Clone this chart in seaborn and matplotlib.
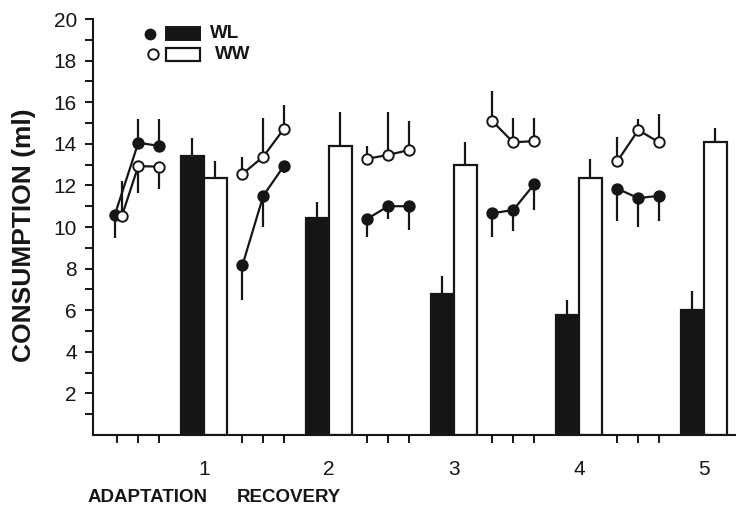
import numpy as np
import pandas as pd
import matplotlib
matplotlib.use("Agg")
import matplotlib.pyplot as plt
from matplotlib.patches import Rectangle
import seaborn as sns

# ---------------- data ----------------
groups = ["WL", "WW"]
bar_labels = ["1", "2", "3", "4", "5"]
segments = ["ADAPTATION", "R1", "R2", "R3", "R4"]

# bar means and SEM (upward)
wl_bar = [13.43, 10.45, 6.78, 5.75, 6.01]
wl_bar_err = [0.83, 0.74, 0.87, 0.74, 0.91]
ww_bar = [12.34, 13.90, 13.00, 12.34, 14.10]
ww_bar_err = [0.83, 1.62, 1.10, 0.93, 0.64]

# daily points: adaptation (3 days) then recovery after each test (3 days each)
wl_adapt = [10.60, 14.05, 13.90]
wl_adapt_lo = [1.15, 0.0, 0.0]
wl_adapt_hi = [0.0, 1.15, 1.30]
ww_adapt = [10.55, 12.93, 12.90]
ww_adapt_lo = [0.0, 1.28, 1.06]
ww_adapt_hi = [1.65, 0.0, 0.0]

wl_rec1 = [8.16, 11.50, 12.95]
wl_rec2 = [10.40, 11.00, 11.00]
wl_rec3 = [10.66, 10.82, 12.05]
wl_rec4 = [11.84, 11.39, 11.50]
wl_rec_lo1 = [1.65, 1.50, 0.35]
wl_rec_lo2 = [0.87, 0.60, 1.13]
wl_rec_lo3 = [1.13, 1.00, 1.23]
wl_rec_lo4 = [1.55, 1.38, 1.21]

ww_rec1 = [12.55, 13.38, 14.73]
ww_rec2 = [13.28, 13.47, 13.70]
ww_rec3 = [15.08, 14.07, 14.13]
ww_rec4 = [13.17, 14.66, 14.07]
ww_rec_hi1 = [0.80, 1.84, 1.14]
ww_rec_hi2 = [0.60, 2.05, 1.40]
ww_rec_hi3 = [1.47, 1.15, 1.09]
ww_rec_hi4 = [1.14, 0.52, 1.36]

# ---------------- layout (positions) ----------------
period = 6.0
centers = np.array([period * (i + 1) for i in range(5)])
day_off = np.array([-4.15, -3.15, -2.15])
day_pos = np.concatenate([c + day_off for c in centers])  # 5 segments x 3 days
bar_half = 0.55

# ---------------- style ----------------
sns.set_style("ticks")
plt.rcParams["font.family"] = ["Liberation Sans", "DejaVu Sans"]
ink = "#161616"
msize = 7.5

fig = plt.figure(figsize=(7.36, 5.07), dpi=100)
ax = fig.add_axes([0.127, 0.142, 0.873, 0.8205])

# ---------------- bars ----------------
df_bar = pd.DataFrame({
    "x": np.concatenate([centers - bar_half, centers + bar_half]),
    "y": wl_bar + ww_bar,
    "group": ["WL"] * 5 + ["WW"] * 5,
})
sns.barplot(data=df_bar, x="x", y="y", hue="group", native_scale=True,
            dodge=False, width=1.0, errorbar=None, saturation=1,
            palette={"WL": ink, "WW": "white"}, edgecolor=ink,
            linewidth=1.6, legend=False, ax=ax)
ax.errorbar(df_bar["x"], df_bar["y"],
            yerr=[np.zeros(10), wl_bar_err + ww_bar_err],
            fmt="none", ecolor=ink, elinewidth=1.6, capsize=0, zorder=1.5)

# ---------------- daily points ----------------
wl_days = wl_adapt + wl_rec1 + wl_rec2 + wl_rec3 + wl_rec4
wl_lo = wl_adapt_lo + wl_rec_lo1 + wl_rec_lo2 + wl_rec_lo3 + wl_rec_lo4
wl_hi = wl_adapt_hi + [0.0] * 12
ww_days = ww_adapt + ww_rec1 + ww_rec2 + ww_rec3 + ww_rec4
ww_lo = ww_adapt_lo + [0.0] * 12
ww_hi = ww_adapt_hi + ww_rec_hi1 + ww_rec_hi2 + ww_rec_hi3 + ww_rec_hi4

seg_id = np.repeat(segments, 3)
wl_x = day_pos.copy()
ww_x = day_pos.copy()
wl_x[0] -= 0.12   # first adaptation day points slightly separated
ww_x[0] += 0.22

df_wl = pd.DataFrame({"x": wl_x, "y": wl_days, "seg": seg_id})
df_ww = pd.DataFrame({"x": ww_x, "y": ww_days, "seg": seg_id})

ax.errorbar(wl_x, wl_days, yerr=[wl_lo, wl_hi], fmt="none", ecolor=ink,
            elinewidth=1.6, capsize=0, zorder=1.5)
ax.errorbar(ww_x, ww_days, yerr=[ww_lo, ww_hi], fmt="none", ecolor=ink,
            elinewidth=1.6, capsize=0, zorder=1.5)

sns.lineplot(data=df_wl, x="x", y="y", units="seg", estimator=None,
             color=ink, lw=1.6, marker="o", markersize=msize,
             markerfacecolor=ink, markeredgecolor=ink, markeredgewidth=1.4,
             ax=ax, zorder=3)
sns.lineplot(data=df_ww, x="x", y="y", units="seg", estimator=None,
             color=ink, lw=1.6, marker="o", markersize=msize,
             markerfacecolor="white", markeredgecolor=ink, markeredgewidth=1.4,
             ax=ax, zorder=3)

# ---------------- axes ----------------
ax.set_xlim(0.70, 31.54)
ax.set_ylim(0, 20)
ax.set_yticks(np.arange(2, 21, 2))
ax.set_yticks(np.arange(1, 20, 2), minor=True)
ax.set_yticklabels([str(v) for v in range(2, 21, 2)])
ax.set_xticks(centers)
ax.set_xticklabels(bar_labels)
ax.set_xticks(day_pos, minor=True)

ax.tick_params(axis="y", which="both", direction="out", length=5.5, width=1.4,
               labelsize=15, pad=6.5, colors=ink)
ax.tick_params(axis="x", which="major", length=0, labelsize=15, pad=18,
               colors=ink)
ax.tick_params(axis="x", which="minor", direction="out", length=6, width=1.4,
               colors=ink)

for s in ["top", "right"]:
    ax.spines[s].set_visible(False)
for s in ["left", "bottom"]:
    ax.spines[s].set_linewidth(1.5)
    ax.spines[s].set_color(ink)
ax.grid(False)

ax.set_xlabel("")
ax.set_ylabel("CONSUMPTION (ml)", fontsize=19, fontweight="bold", color=ink)
ax.yaxis.set_label_coords(-0.09, 0.481)

ax.text(0.0848, -0.1514, "ADAPTATION", transform=ax.transAxes, ha="center",
        va="center", fontsize=13.5, fontweight="bold", color=ink)
ax.text(0.3035, -0.1514, "RECOVERY", transform=ax.transAxes, ha="center",
        va="center", fontsize=13.5, fontweight="bold", color=ink)

# ---------------- legend (manual) ----------------
ax.plot([0.0879], [0.964], marker="o", markersize=msize, color=ink,
        markerfacecolor=ink, transform=ax.transAxes, clip_on=False)
ax.add_patch(Rectangle((0.1128, 0.9495), 0.0529, 0.0312, transform=ax.transAxes,
                       facecolor=ink, edgecolor=ink, lw=1.4, clip_on=False))
ax.text(0.1813, 0.966, "WL", transform=ax.transAxes, ha="left", va="center",
        fontsize=13.5, fontweight="bold", color=ink)
ax.plot([0.0926], [0.9159], marker="o", markersize=msize, color=ink,
        markerfacecolor="white", markeredgewidth=1.4, transform=ax.transAxes,
        clip_on=False)
ax.add_patch(Rectangle((0.1128, 0.899), 0.0529, 0.0312, transform=ax.transAxes,
                       facecolor="white", edgecolor=ink, lw=1.6, clip_on=False))
ax.text(0.1891, 0.914, "WW", transform=ax.transAxes, ha="left", va="center",
        fontsize=13.5, fontweight="bold", color=ink)

fig.savefig("out.png", dpi=100)
